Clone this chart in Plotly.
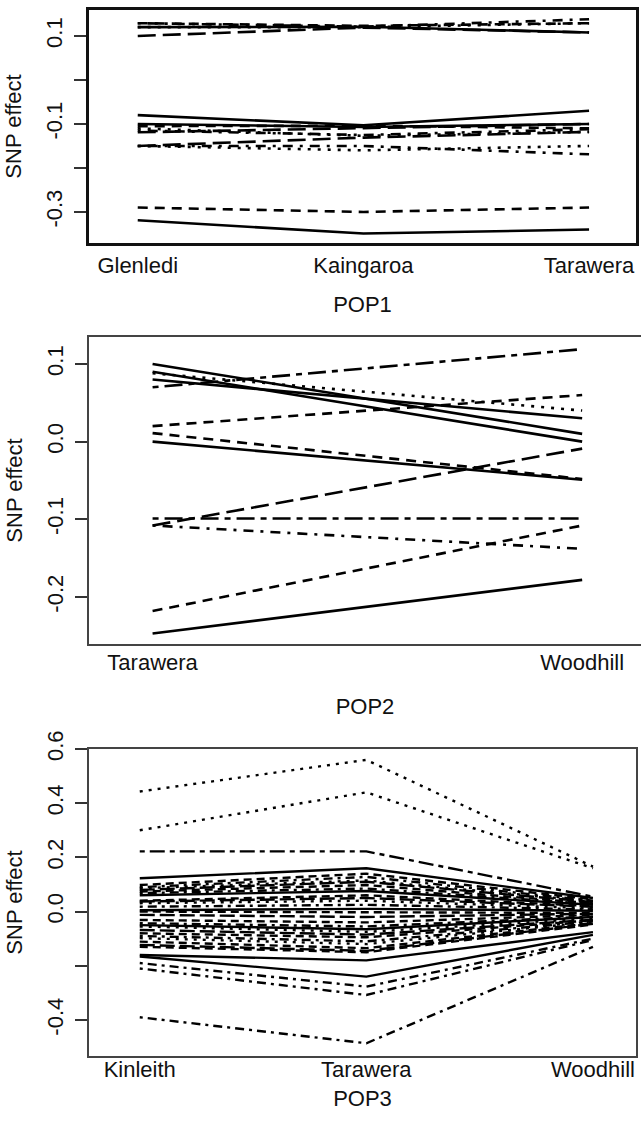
import plotly.graph_objects as go

W, H = 641, 1127

# ---------------- data ----------------
pop1_sites = ["Glenledi", "Kaingaroa", "Tarawera"]
pop1_effects = [
    [0.129, 0.121, 0.138],
    [0.129, 0.123, 0.129],
    [0.120, 0.120, 0.129],
    [0.120, 0.121, 0.108],
    [0.100, 0.119, 0.108],
    [-0.080, -0.103, -0.070],
    [-0.100, -0.107, -0.100],
    [-0.105, -0.104, -0.110],
    [-0.110, -0.127, -0.118],
    [-0.115, -0.125, -0.112],
    [-0.119, -0.110, -0.100],
    [-0.150, -0.150, -0.169],
    [-0.150, -0.160, -0.150],
    [-0.150, -0.131, -0.118],
    [-0.290, -0.300, -0.290],
    [-0.319, -0.349, -0.340],
]
pop1_lty = ["dotdash", "dash", "dot", "solid", "longdash",
            "solid", "solid", "dash", "dot", "dotdash", "longdash",
            "dotdash", "dot", "longdash", "dash", "solid"]

pop2_sites = ["Tarawera", "Woodhill"]
pop2_effects = [
    [0.100, 0.010],
    [0.090, 0.000],
    [0.080, 0.030],
    [0.088, 0.040],
    [0.070, 0.119],
    [0.020, 0.060],
    [0.011, -0.048],
    [0.000, -0.049],
    [-0.108, -0.009],
    [-0.099, -0.099],
    [-0.108, -0.138],
    [-0.218, -0.108],
    [-0.247, -0.178],
]
pop2_lty = ["solid", "solid", "solid", "dot", "twodash", "dash", "dash",
            "solid", "longdash", "twodash", "dotdash", "dash", "solid"]

pop3_sites = ["Kinleith", "Tarawera", "Woodhill"]
pop3_effects = [
    [0.443, 0.560, 0.166],
    [0.300, 0.440, 0.160],
    [0.222, 0.222, 0.055],
    [0.123, 0.160, 0.050],
    [0.098, 0.140, 0.045],
    [0.090, 0.128, 0.040],
    [0.086, 0.115, 0.038],
    [0.080, 0.110, 0.035],
    [0.074, 0.098, 0.030],
    [0.068, 0.085, 0.028],
    [0.060, 0.076, 0.025],
    [0.040, 0.060, 0.020],
    [0.037, 0.050, 0.018],
    [0.031, 0.040, 0.012],
    [0.018, 0.025, 0.008],
    [0.005, 0.010, 0.003],
    [0.000, -0.002, -0.005],
    [-0.012, -0.020, -0.008],
    [-0.031, -0.040, -0.012],
    [-0.043, -0.055, -0.018],
    [-0.050, -0.065, -0.020],
    [-0.055, -0.075, -0.025],
    [-0.068, -0.085, -0.030],
    [-0.080, -0.095, -0.032],
    [-0.090, -0.110, -0.036],
    [-0.098, -0.120, -0.038],
    [-0.111, -0.135, -0.042],
    [-0.123, -0.145, -0.045],
    [-0.130, -0.150, -0.048],
    [-0.160, -0.180, -0.076],
    [-0.166, -0.240, -0.086],
    [-0.190, -0.277, -0.100],
    [-0.210, -0.308, -0.105],
    [-0.390, -0.486, -0.130],
]
pop3_lty = ["dot", "dot", "twodash", "solid",
            "dash", "dotdash", "dot", "longdash", "dash", "dotdash", "solid",
            "dash", "longdash", "dot", "dotdash", "solid", "dash", "longdash",
            "dash", "dotdash", "solid", "dot", "longdash", "dash", "dotdash",
            "dot", "dash", "longdash", "dash",
            "solid", "solid", "dotdash", "dotdash", "dotdash"]

pop1_yticks = [-0.3, -0.2, -0.1, 0.0, 0.1]
pop1_ylabels = ["-0.3", "", "-0.1", "", "0.1"]
pop2_yticks = [-0.2, -0.1, 0.0, 0.1]
pop2_ylabels = ["-0.2", "-0.1", "0.0", "0.1"]
pop3_yticks = [-0.4, -0.2, 0.0, 0.2, 0.4, 0.6]
pop3_ylabels = ["-0.4", "", "0.0", "0.2", "0.4", "0.6"]

# ---------------- styles ----------------
DASH_BIG = {
    "solid": "solid",
    "dash": "10px,7px",
    "dot": "3px,7px",
    "dotdash": "3px,7px,10px,7px",
    "longdash": "18px,7px",
    "twodash": "6px,6px,18px,6px",
}
DASH_SMALL = {
    "solid": "solid",
    "dash": "8px,5px",
    "dot": "3px,6px",
    "dotdash": "3px,5px,9px,5px",
    "longdash": "15px,5px",
    "twodash": "5px,5px,15px,5px",
}

FONT = "Liberation Sans, Arial, Helvetica, sans-serif"
FS = 22

fig = go.Figure()

def add_panel(sites, effects, ltys, axis_idx, dashes, width):
    xa = "x" if axis_idx == 1 else f"x{axis_idx}"
    ya = "y" if axis_idx == 1 else f"y{axis_idx}"
    for vals, lt in zip(effects, ltys):
        fig.add_trace(go.Scatter(
            x=sites, y=vals, mode="lines", xaxis=xa, yaxis=ya,
            line=dict(color="black", width=width, dash=dashes[lt]),
            showlegend=False, hoverinfo="skip"))

add_panel(pop1_sites, pop1_effects, pop1_lty, 1, DASH_BIG, 2.6)
add_panel(pop2_sites, pop2_effects, pop2_lty, 2, DASH_BIG, 2.6)
add_panel(pop3_sites, pop3_effects, pop3_lty, 3, DASH_SMALL, 2.4)

def py(px):
    return 1 - px / H

def xaxis(domain_right, rng, title, linecolor, lw, lab_off, title_off):
    return dict(
        domain=[89 / W, domain_right], range=rng, type="category",
        showgrid=False, zeroline=False, showline=True, mirror=True,
        linecolor=linecolor, linewidth=lw, ticks="", automargin=False,
        tickfont=dict(family=FONT, size=FS, color="#111"),
        ticklabelstandoff=lab_off,
        title=dict(text=title, font=dict(family=FONT, size=FS, color="#111"), standoff=title_off),
    )

def yaxis(top, bottom, rng, tv, tt, anchor, linecolor, lw):
    return dict(
        domain=[py(bottom), py(top)], range=rng, anchor=anchor,
        showgrid=False, zeroline=False, showline=True, mirror=True,
        linecolor=linecolor, linewidth=lw,
        ticks="outside", ticklen=12, tickwidth=1.5, tickcolor="#333",
        tickvals=tv, ticktext=tt, tickangle=-90, automargin=False,
        tickfont=dict(family=FONT, size=FS, color="#111"),
        ticklabelstandoff=3,
        title=dict(text="SNP effect", font=dict(family=FONT, size=FS, color="#111"), standoff=15),
    )

fig.update_layout(
    width=W, height=H,
    margin=dict(l=0, r=0, t=0, b=0),
    paper_bgcolor="white", plot_bgcolor="white",
    template="none",
    xaxis=dict(xaxis(636 / W, [-0.216, 2.208], "POP1", "#111", 2.5, 1, 20), anchor="y"),
    yaxis=yaxis(10, 243, [-0.3706, 0.159], pop1_yticks, pop1_ylabels, "x", "#111", 2.5),
    xaxis2=dict(xaxis(1.0, [-0.148, 1.137], "POP2", "#444", 2, -2, 24), anchor="y2"),
    yaxis2=yaxis(337, 644, [-0.2605, 0.1347], pop2_yticks, pop2_ylabels, "x2", "#444", 2),
    xaxis3=dict(xaxis(636 / W, [-0.224, 2.190], "POP3", "#444", 2, -7, 9), anchor="y3"),
    yaxis3=yaxis(749, 1056, [-0.533, 0.6], pop3_yticks, pop3_ylabels, "x3", "#444", 2),
)

fig.write_html(
    "out.html",
    config={"displayModeBar": False},
    post_script="document.body.style.margin='0';document.body.style.overflow='hidden';",
)
